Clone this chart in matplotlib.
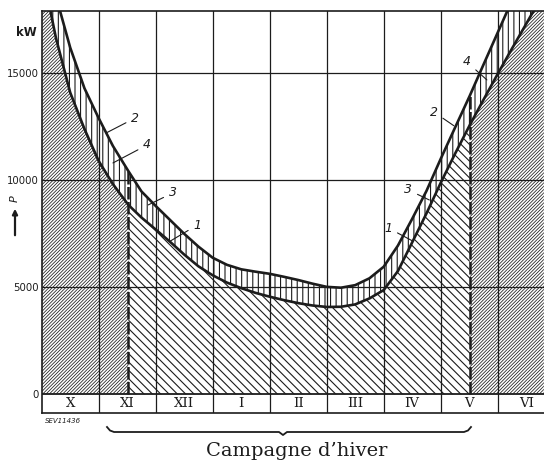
import matplotlib
matplotlib.use("Agg")
import matplotlib.pyplot as plt
from matplotlib.lines import Line2D
from matplotlib.patches import FancyArrowPatch

INK = "#1c1c1c"

# ---- data (months counted from start of October, power in kW) ----
months = ["X", "XI", "XII", "I", "II", "III", "IV", "V", "VI"]
yticks = [0, 5000, 10000, 15000]

month_pos = [0.0, 0.25, 0.5, 0.75, 1.0, 1.25, 1.52, 1.75, 2.0, 2.25, 2.5, 2.75,
             3.0, 3.25, 3.5, 3.75, 4.0, 4.25, 4.5, 4.75, 5.0, 5.25, 5.5, 5.75,
             6.0, 6.25, 6.5, 6.75, 7.0, 7.25, 7.51, 7.75, 8.0, 8.25, 8.5, 8.81]
upper_kw = [20900, 18600, 16200, 14300, 12900, 11600, 10430, 9480, 8800, 8150, 7500, 6900,
            6380, 6050, 5840, 5730, 5630, 5490, 5340, 5170, 5020, 4980, 5100, 5420,
            5960, 6950, 8200, 9500, 11000, 12450, 13950, 15400, 16900, 18400, 19950, 21700]
lower_kw = [19900, 16650, 14100, 12400, 10900, 9820, 8850, 8260, 7700, 7130, 6530, 5980,
            5560, 5220, 4960, 4740, 4560, 4400, 4260, 4150, 4080, 4090, 4200, 4480,
            4870, 5760, 7100, 8450, 9880, 11230, 12580, 13760, 14970, 16150, 17310, 18760]

campaign_start = 1.52   # dashed line in XI
campaign_end = 7.51     # dashed line in V

# curve labels: text, text position, leader end
labels = ["2", "4", "3", "1", "1", "3", "2", "4"]
label_xy = [(1.64, 12910), (1.85, 11650), (2.30, 9410), (2.73, 7910),
            (6.08, 7770), (6.43, 9550), (6.88, 13190), (7.46, 15530)]
leader_xy = [(1.13, 12210), (1.25, 10810), (1.87, 8850), (2.25, 7150),
             (6.51, 7160), (6.80, 9080), (7.23, 12550), (7.81, 14690)]

# ---- figure ----
W, H = 544, 462
fig = plt.figure(figsize=(W / 100, H / 100), dpi=100)
fig.patch.set_facecolor("white")
x0, x1, ytop, ybot = 41.7, 544.0, 11.0, 413.0
ax = fig.add_axes([x0 / W, 1 - ybot / H, (x1 - x0) / W, (ybot - ytop) / H])
px_per_month = 57.0
xmax = (x1 - x0) / px_per_month
ymin, ymax = -874, 17910
ax.set_xlim(0, xmax)
ax.set_ylim(ymin, ymax)

i1 = month_pos.index(campaign_start)
i2 = month_pos.index(campaign_end)

# dense hatch outside the campaign
plt.rcParams["hatch.linewidth"] = 0.55
ax.fill_between(month_pos[:i1 + 1], 0, lower_kw[:i1 + 1], hatch="/" * 10,
                facecolor="none", edgecolor=INK, linewidth=0, zorder=1)
ax.fill_between(month_pos[i2:], 0, lower_kw[i2:], hatch="/" * 10,
                facecolor="none", edgecolor=INK, linewidth=0, zorder=1)
# wider backslash hatch during the campaign
plt.rcParams["hatch.linewidth"] = 0.8
ax.fill_between(month_pos[i1:i2 + 1], 0, lower_kw[i1:i2 + 1], hatch="\\" * 4,
                facecolor="none", edgecolor=INK, linewidth=0, zorder=1)
# vertical hatched band between the curves
plt.rcParams["hatch.linewidth"] = 0.8
ax.fill_between(month_pos, lower_kw, upper_kw, hatch="|||",
                facecolor="none", edgecolor=INK, linewidth=0, zorder=1)

# grid
for k in range(1, len(months)):
    ax.axvline(k, color=INK, lw=0.9, zorder=2)
for v in yticks[1:]:
    ax.axhline(v, color=INK, lw=0.9, zorder=2)
ax.axhline(0, color=INK, lw=1.3, zorder=3)

# curves
ax.plot(month_pos, upper_kw, color=INK, lw=1.9, zorder=4)
ax.plot(month_pos, lower_kw, color=INK, lw=1.9, zorder=4)

# dashed campaign limits
for idx in (i1, i2):
    ax.plot([month_pos[idx]] * 2, [0, upper_kw[idx]], color=INK, lw=1.8,
            ls=(0, (5, 1)), zorder=3)

# curve labels
for t, (tx, ty), (ex, ey) in zip(labels, label_xy, leader_xy):
    ax.annotate(t, xy=(ex, ey), xytext=(tx, ty), ha="center", va="center",
                fontsize=9, style="italic", color=INK, zorder=5,
                arrowprops=dict(arrowstyle="-", color=INK, lw=0.8,
                                shrinkA=2, shrinkB=0))

# month strip labels
for k, m in enumerate(months):
    ax.text(k + 0.5, ymin / 2, m, ha="center", va="center",
            family="DejaVu Serif", fontsize=9.5, color=INK)

# axes styling
ax.set_xticks([])
ax.set_yticks(yticks)
ax.set_yticklabels([str(v) for v in yticks])
ax.tick_params(axis="y", length=0, pad=2, labelsize=7.3, colors=INK)
for side in ("left", "top", "bottom"):
    ax.spines[side].set_color(INK)
    ax.spines[side].set_linewidth(1.2)
ax.spines["right"].set_visible(False)

# annotations outside the axes
fig.text(26 / W, 1 - 33 / H, "kW", ha="center", va="center", fontsize=8.5,
         weight="bold", color=INK)
fig.text(15 / W, 1 - 199 / H, "P", ha="center", va="center", fontsize=8,
         style="italic", rotation=90, color=INK)
fig.add_artist(FancyArrowPatch(
    (15 / W, 1 - 238 / H), (15 / W, 1 - 206 / H), transform=fig.transFigure,
    arrowstyle="-|>,head_length=3,head_width=1.5", color=INK, lw=1.6))
fig.text(45 / W, 1 - 421 / H, "SEV11436", ha="left", va="center", fontsize=5,
         style="italic", color=INK)

# brace
bx = [107, 110, 114, 279, 283, 287, 464, 468, 471]
by = [427, 430.5, 432, 432, 435, 432, 432, 430.5, 427]
fig.add_artist(Line2D([v / W for v in bx], [1 - v / H for v in by],
                      transform=fig.transFigure, color=INK, lw=1.3))
fig.text(297 / W, 1 - 451 / H, "Campagne d’hiver", ha="center", va="center",
         family="DejaVu Serif", fontsize=14, color=INK)

fig.savefig("out.png", dpi=100, facecolor="white")
